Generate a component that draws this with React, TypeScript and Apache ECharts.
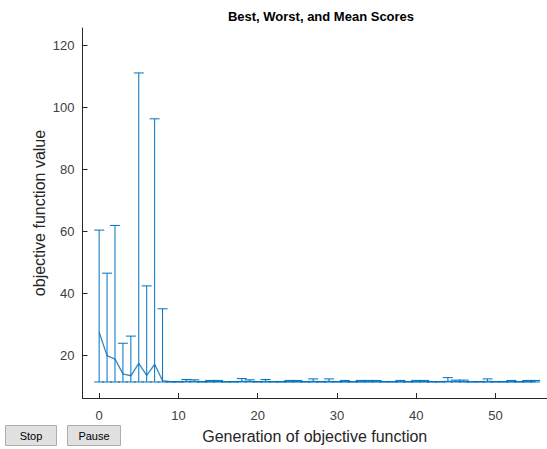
import React, { useEffect, useRef } from "react";
import * as echarts from "echarts";

// Generation index of each recorded population
const generations = [
  0, 1, 2, 3, 4, 5, 6, 7, 8, 9, 10, 11, 12, 13, 14, 15, 16, 17, 18, 19,
  20, 21, 22, 23, 24, 25, 26, 27, 28, 29, 30, 31, 32, 33, 34, 35, 36, 37, 38, 39,
  40, 41, 42, 43, 44, 45, 46, 47, 48, 49, 50, 51, 52, 53, 54, 55,
];

// Best (lowest) score per generation
const bestScores = [
  11.3, 11.3, 11.3, 11.3, 11.3, 11.3, 11.3, 11.3, 11.3, 11.3, 11.3, 11.3, 11.3, 11.3, 11.3, 11.3, 11.3, 11.3, 11.3, 11.3,
  11.3, 11.3, 11.3, 11.3, 11.3, 11.3, 11.3, 11.3, 11.3, 11.3, 11.3, 11.3, 11.3, 11.3, 11.3, 11.3, 11.3, 11.3, 11.3, 11.3,
  11.3, 11.3, 11.3, 11.3, 11.3, 11.3, 11.3, 11.3, 11.3, 11.3, 11.3, 11.3, 11.3, 11.3, 11.3, 11.3,
];

// Mean score per generation
const meanScores = [
  27.3, 19.8, 18.7, 13.9, 13.3, 17.3, 13.4, 17.0, 11.7, 11.4, 11.4, 11.5, 11.5, 11.4, 11.4, 11.4, 11.4, 11.4, 11.5, 11.5,
  11.4, 11.5, 11.4, 11.4, 11.4, 11.4, 11.4, 11.5, 11.4, 11.5, 11.4, 11.4, 11.4, 11.4, 11.4, 11.4, 11.4, 11.4, 11.4, 11.4,
  11.4, 11.4, 11.4, 11.4, 11.5, 11.5, 11.4, 11.4, 11.4, 11.5, 11.4, 11.4, 11.4, 11.4, 11.4, 11.4,
];

// Worst (highest) score per generation
const worstScores = [
  60.3, 46.4, 61.8, 23.8, 26.1, 111.0, 42.3, 96.2, 34.9, 11.4, 11.4, 12.1, 12.0, 11.4, 11.8, 11.8, 11.4, 11.4, 12.4, 12.0,
  11.4, 12.1, 11.4, 11.4, 11.8, 11.8, 11.4, 12.3, 11.4, 12.3, 11.4, 11.8, 11.4, 11.8, 11.8, 11.8, 11.4, 11.4, 11.8, 11.4,
  11.8, 11.8, 11.4, 11.4, 12.7, 11.9, 11.9, 11.4, 11.4, 12.3, 11.4, 11.4, 11.8, 11.4, 11.8, 11.8,
];

const xTicks = [0, 10, 20, 30, 40, 50];
const yTicks = [20, 40, 60, 80, 100, 120];

const BAR_COLOR = "#0072BD";
const MEAN_COLOR = "#3a8cc8";
const AXIS_COLOR = "#262626";
const FONT = "'Liberation Sans', Arial, Helvetica, sans-serif";

function makeButton(x: number, label: string, width: number) {
  return {
    type: "group",
    left: x,
    top: 425,
    children: [
      {
        type: "rect",
        shape: { x: 0, y: 0, width, height: 20 },
        style: { fill: "#e1e1e1", stroke: "#adadad", lineWidth: 1 },
      },
      {
        type: "text",
        x: width / 2,
        y: 10,
        style: {
          text: label,
          fill: "#000",
          font: `11px ${FONT}`,
          align: "center",
          verticalAlign: "middle",
        },
      },
    ],
  };
}

export default function App() {
  const ref = useRef<HTMLDivElement>(null);

  useEffect(() => {
    if (!ref.current) return;
    const chart = echarts.init(ref.current, undefined, { renderer: "svg" });

    const rangeData = generations.map((g, i) => [g, bestScores[i], worstScores[i]]);
    const meanData = generations.map((g, i) => [g, meanScores[i]]);

    chart.setOption({
      animation: false,
      backgroundColor: "#ffffff",
      title: {
        text: "Best, Worst, and Mean Scores",
        left: 316,
        top: 5,
        textAlign: "center",
        textStyle: { fontFamily: FONT, fontSize: 13, fontWeight: "bold", color: "#000" },
      },
      grid: { left: 82.5, right: 0, top: 28, bottom: 51 },
      xAxis: {
        type: "value",
        min: -2.1,
        max: 56.5,
        name: "Generation of objective function",
        nameLocation: "middle",
        nameGap: 30,
        nameMoveOverlap: false,
        nameTextStyle: { fontFamily: FONT, fontSize: 16, color: AXIS_COLOR },
        axisLine: { show: true, onZero: false, lineStyle: { color: AXIS_COLOR, width: 1 } },
        axisTick: { show: true, inside: true, length: 5, customValues: xTicks, lineStyle: { color: AXIS_COLOR } },
        axisLabel: { customValues: xTicks, margin: 11, fontFamily: FONT, fontSize: 13, color: "#404040" },
        splitLine: { show: false },
      },
      yAxis: {
        type: "value",
        min: 6.13,
        max: 125.5,
        name: "objective function value",
        nameLocation: "middle",
        nameGap: 35,
        nameMoveOverlap: false,
        nameTextStyle: { fontFamily: FONT, fontSize: 16, color: AXIS_COLOR },
        axisLine: { show: true, onZero: false, lineStyle: { color: AXIS_COLOR, width: 1 } },
        axisTick: { show: true, inside: true, length: 5, customValues: yTicks, lineStyle: { color: AXIS_COLOR } },
        axisLabel: { customValues: yTicks, margin: 8, fontFamily: FONT, fontSize: 13, color: "#404040" },
        splitLine: { show: false },
      },
      series: [
        {
          type: "line",
          name: "Mean",
          data: meanData,
          showSymbol: false,
          lineStyle: { color: MEAN_COLOR, width: 1.4 },
          z: 2,
        },
        {
          type: "custom",
          name: "Range",
          data: rangeData,
          encode: { x: 0, y: [1, 2] },
          clip: true,
          z: 3,
          renderItem: (_params: any, api: any) => {
            const g = api.value(0);
            const lo = api.coord([g, api.value(1)]);
            const hi = api.coord([g, api.value(2)]);
            const hw = 5;
            const style = { stroke: BAR_COLOR, lineWidth: 1, fill: "none" };
            return {
              type: "group",
              children: [
                { type: "line", shape: { x1: lo[0], y1: lo[1], x2: hi[0], y2: hi[1] }, style },
                { type: "line", shape: { x1: hi[0] - hw, y1: hi[1], x2: hi[0] + hw, y2: hi[1] }, style },
                { type: "line", shape: { x1: lo[0] - hw, y1: lo[1], x2: lo[0] + hw, y2: lo[1] }, style },
              ],
            };
          },
        },
      ],
      graphic: [makeButton(5, "Stop", 51), makeButton(67, "Pause", 53)],
    });

    return () => chart.dispose();
  }, []);

  return (
    <div
      ref={ref}
      style={{ position: "absolute", left: 0, top: 0, width: 547, height: 449 }}
    />
  );
}
